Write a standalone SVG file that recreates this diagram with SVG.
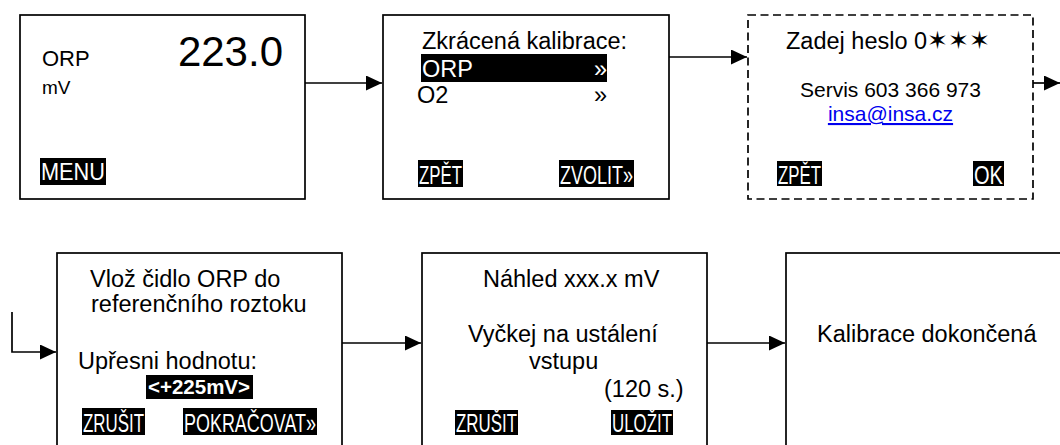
<svg xmlns="http://www.w3.org/2000/svg" width="1060" height="445" viewBox="0 0 1060 445">
<style>
.box{fill:#fff;stroke:#000;stroke-width:1.7}
.dash{stroke-dasharray:8 4.5}
.t{font-family:"Liberation Sans",Arial,"DejaVu Sans",sans-serif;font-size:23.5px;fill:#000}
.s{font-size:21px}
.hl{fill:#000}
.w{fill:#fff}
.btn{font-family:"Liberation Sans",Arial,sans-serif;font-size:25px;fill:#fff}
.link{fill:#0000ee;text-decoration:underline}
.con{fill:none;stroke:#000;stroke-width:1.7}
</style>
<defs>
<marker id="ah" markerUnits="userSpaceOnUse" markerWidth="17" markerHeight="15" refX="16" refY="7.5" orient="auto">
<path d="M0,0 L16,7.5 L0,15 Z" fill="#000"/>
</marker>
</defs>
<rect width="1060" height="445" fill="#fff"/>

<g id="connectors">
<path class="con" d="M305,83 H382" marker-end="url(#ah)"/>
<path class="con" d="M669,57 H747" marker-end="url(#ah)"/>
<path class="con" d="M1033,83 H1060" marker-end="url(#ah)"/>
<path class="con" d="M12,312 V352 H56" marker-end="url(#ah)"/>
<path class="con" d="M342,343 H421" marker-end="url(#ah)"/>
<path class="con" d="M707,343 H785" marker-end="url(#ah)"/>
</g>

<g id="node1">
<rect class="box" x="20" y="15" width="285" height="184"/>
<text class="t" x="42" y="66" style="font-size:22px">ORP</text>
<text class="t" x="42" y="94" style="font-size:19px">mV</text>
<text class="t" x="283" y="66" text-anchor="end" style="font-size:42px">223.0</text>
<rect class="hl" x="40" y="158" width="66" height="27"/>
<text class="btn" x="41" y="180" style="font-size:23px" textLength="64" lengthAdjust="spacingAndGlyphs">MENU</text>
</g>

<g id="node2">
<rect class="box" x="383" y="15" width="286" height="184"/>
<text class="t" x="422" y="49">Zkrácená kalibrace:</text>
<rect class="hl" x="421" y="54" width="186" height="28"/>
<text class="t w" x="422" y="77">ORP</text>
<text class="t w" x="594" y="77">»</text>
<text class="t" x="417" y="103">O2</text>
<text class="t" x="594" y="103">»</text>
<rect class="hl" x="418" y="160" width="45" height="27"/>
<text class="btn" x="419" y="184" textLength="43" lengthAdjust="spacingAndGlyphs">ZPĚT</text>
<rect class="hl" x="559" y="160" width="75" height="27"/>
<text class="btn" x="560" y="184" textLength="73" lengthAdjust="spacingAndGlyphs">ZVOLIT»</text>
</g>

<g id="node3">
<rect class="box dash" x="748" y="15" width="285" height="184"/>
<text class="t" x="786" y="49">Zadej heslo 0<tspan style="font-family:'DejaVu Sans',sans-serif;font-size:25px">✶✶✶</tspan></text>
<text class="t s" x="890.5" y="97" text-anchor="middle">Servis 603 366 973</text>
<text class="t s link" x="890.5" y="121" text-anchor="middle">insa@insa.cz</text>
<rect class="hl" x="777" y="161" width="45" height="25"/>
<text class="btn" x="778" y="184" textLength="43" lengthAdjust="spacingAndGlyphs">ZPĚT</text>
<rect class="hl" x="973" y="161" width="31" height="25"/>
<text class="btn" x="974" y="184" textLength="29" lengthAdjust="spacingAndGlyphs">OK</text>
</g>

<g id="node4">
<rect class="box" x="57" y="253" width="285" height="210"/>
<text class="t" x="90" y="287">Vlož čidlo ORP do</text>
<text class="t" x="91" y="312">referenčního roztoku</text>
<text class="t" x="78" y="369">Upřesni hodnotu:</text>
<rect class="hl" x="146" y="375" width="107" height="24"/>
<text class="t w" x="148" y="394" style="font-size:20.5px;font-weight:bold">&lt;+225mV&gt;</text>
<rect class="hl" x="82" y="408" width="63" height="27"/>
<text class="btn" x="83" y="432" textLength="61" lengthAdjust="spacingAndGlyphs">ZRUŠIT</text>
<rect class="hl" x="183" y="408" width="134" height="27"/>
<text class="btn" x="184" y="432" textLength="132" lengthAdjust="spacingAndGlyphs">POKRAČOVAT»</text>
</g>

<g id="node5">
<rect class="box" x="422" y="253" width="285" height="210"/>
<text class="t" x="483" y="287">Náhled xxx.x mV</text>
<text class="t" x="468" y="342">Vyčkej na ustálení</text>
<text class="t" x="529" y="369">vstupu</text>
<text class="t" x="604" y="397">(120 s.)</text>
<rect class="hl" x="455" y="410" width="63" height="25"/>
<text class="btn" x="456" y="432" textLength="61" lengthAdjust="spacingAndGlyphs">ZRUŠIT</text>
<rect class="hl" x="611" y="410" width="62" height="25"/>
<text class="btn" x="612" y="432" textLength="60" lengthAdjust="spacingAndGlyphs">ULOŽIT</text>
</g>

<g id="node6">
<rect class="box" x="786" y="253" width="300" height="210"/>
<text class="t" x="817" y="342">Kalibrace dokončená</text>
</g>
</svg>
